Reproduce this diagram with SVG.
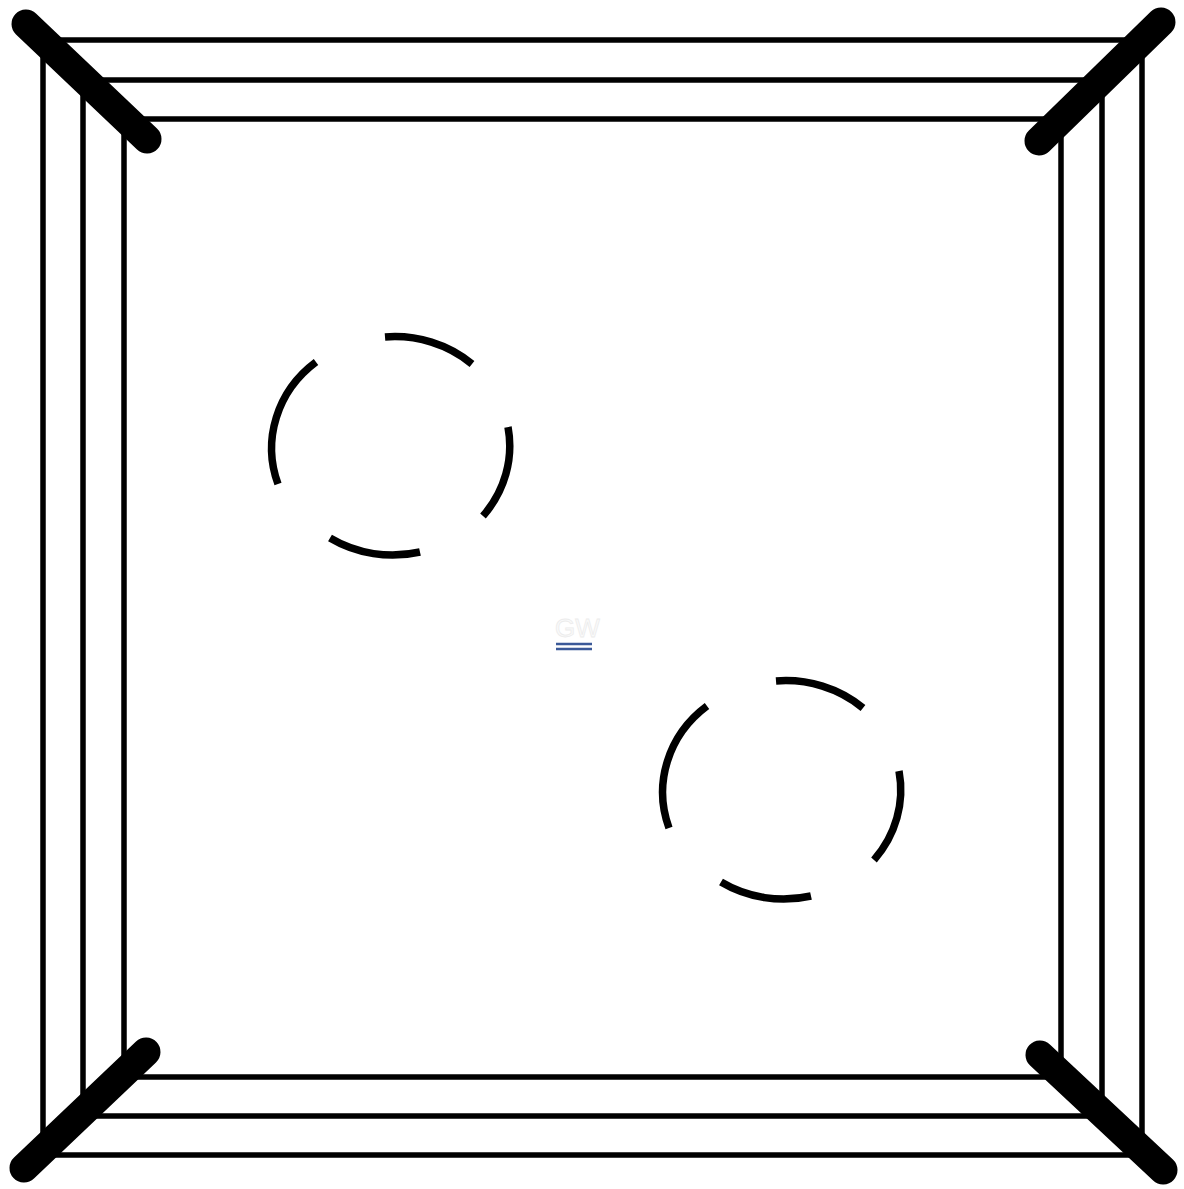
<svg xmlns="http://www.w3.org/2000/svg" width="1184" height="1189" viewBox="0 0 1184 1189">
<style>
.rope{fill:none;stroke:#000;stroke-width:5.5}
.post{stroke:#000;stroke-width:29;stroke-linecap:round}
.arc{fill:none;stroke:#000;stroke-width:7.5;stroke-linecap:butt}
.eq{stroke:#3b5998;stroke-width:2.5}
.wm{font-family:"Liberation Sans",Arial,sans-serif;font-size:26px;fill:#fafafa;stroke:#ececec;stroke-width:0.8}
</style>
<defs>
<g id="ringmark">
<path class="arc" d="M385 337 A117 110 0 0 1 472 364"/>
<path class="arc" d="M278 484 A117 110 0 0 1 316 362"/>
<path class="arc" d="M420 552 A117 110 0 0 1 330 538"/>
<path class="arc" d="M508 427 A117 110 0 0 1 483 516"/>
</g>
</defs>
<rect width="1184" height="1189" fill="#fff"/>
<g id="ropes">
<rect class="rope" x="43" y="40" width="1099" height="1115"/>
<rect class="rope" x="83" y="80" width="1019" height="1036"/>
<rect class="rope" x="124" y="119" width="937" height="958"/>
</g>
<g id="posts">
<line class="post" x1="26" y1="24" x2="147" y2="139"/>
<line class="post" x1="1161" y1="22" x2="1039" y2="141"/>
<line class="post" x1="146" y1="1052" x2="24" y2="1168"/>
<line class="post" x1="1040" y1="1055" x2="1163" y2="1170"/>
</g>
<g id="mark1"><use href="#ringmark"/></g>
<g id="mark2"><use href="#ringmark" transform="translate(391 344)"/></g>
<g id="center">
<text class="wm" x="555" y="637">GW</text>
<line class="eq" x1="556" y1="644" x2="592" y2="644"/>
<line class="eq" x1="556" y1="649" x2="592" y2="649"/>
</g>
</svg>
